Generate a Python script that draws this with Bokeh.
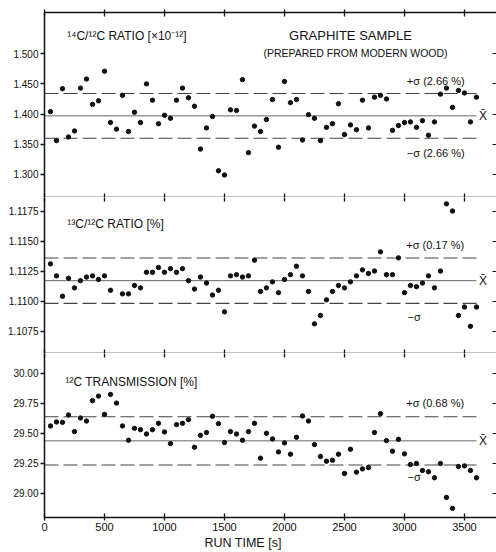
from bokeh.plotting import figure
from bokeh.layouts import column
from bokeh.models import Range1d, LinearAxis, FixedTicker, Title
from bokeh.core.properties import value
from bokeh.embed import file_html
from bokeh.resources import INLINE
import math

# ---------------- data ----------------
RUN_TIME = [50, 100, 150, 200, 250, 300, 350, 400, 450, 500, 550, 600,
            650, 700, 750, 800, 850, 900, 950, 1000, 1050, 1100, 1150, 1200,
            1250, 1300, 1350, 1400, 1450, 1500, 1550, 1600, 1650, 1700, 1750, 1800,
            1850, 1900, 1950, 2000, 2050, 2100, 2150, 2200, 2250, 2300, 2350, 2400,
            2450, 2500, 2550, 2600, 2650, 2700, 2750, 2800, 2850, 2900, 2950, 3000,
            3050, 3100, 3150, 3200, 3250, 3300, 3350, 3400, 3450, 3500, 3550, 3600]

C14_RATIO = [1.404, 1.356, 1.442, 1.362, 1.372, 1.443, 1.458, 1.416, 1.422, 1.471, 1.386, 1.375,
             1.431, 1.371, 1.403, 1.386, 1.450, 1.423, 1.384, 1.398, 1.393, 1.423, 1.443, 1.427,
             1.413, 1.342, 1.377, 1.396, 1.306, 1.299, 1.407, 1.406, 1.457, 1.336, 1.380, 1.371,
             1.391, 1.424, 1.345, 1.454, 1.419, 1.424, 1.357, 1.399, 1.393, 1.356, 1.378, 1.384,
             1.417, 1.366, 1.382, 1.374, 1.423, 1.377, 1.428, 1.431, 1.425, 1.373, 1.381, 1.386,
             1.387, 1.378, 1.389, 1.365, 1.387, 1.433, 1.443, 1.411, 1.439, 1.435, 1.387, 1.428]

C13_RATIO = [1.1131, 1.1121, 1.1104, 1.1119, 1.1111, 1.1117, 1.1120, 1.1121, 1.1118, 1.1121, 1.1109, float("nan"),
             1.1106, 1.1106, 1.1113, 1.1111, 1.1124, 1.1124, 1.1128, 1.1124, 1.1127, 1.1124, 1.1127, 1.1117,
             1.1110, 1.1120, 1.1115, 1.1105, 1.1109, 1.1091, 1.1121, 1.1122, 1.1120, 1.1121, 1.1134, 1.1108,
             1.1111, 1.1116, 1.1107, 1.1118, 1.1122, 1.1129, 1.1121, 1.1108, 1.1081, 1.1088, 1.1101, 1.1108,
             1.1113, 1.1111, 1.1116, 1.1121, 1.1126, 1.1123, 1.1125, 1.1141, 1.1122, 1.1122, 1.1136, 1.1107,
             1.1113, 1.1112, 1.1115, 1.1121, 1.1111, 1.1125, 1.1181, 1.1175, 1.1088, 1.1095, 1.1079, 1.1095]

C12_TRANS = [29.561, 29.594, 29.591, 29.652, 29.514, 29.627, 29.602, 29.771, 29.809, 29.657, 29.823, 29.751,
             29.561, 29.442, 29.541, 29.530, 29.494, 29.530, 29.583, 29.511, 29.414, 29.572, 29.583, 29.613,
             29.384, 29.483, 29.506, 29.641, 29.580, 29.423, 29.514, 29.494, 29.442, 29.514, 29.583, 29.293,
             29.500, 29.453, 29.345, 29.420, 29.326, 29.467, 29.644, 29.602, 29.406, 29.307, 29.268, 29.276,
             29.326, 29.166, 29.367, 29.177, 29.204, 29.215, 29.506, 29.663, 29.439, 29.351, 29.450, 29.329,
             29.240, 29.249, 29.191, 29.180, 29.130, 29.249, 28.967, 28.876, 29.224, 29.229, 29.191, 29.130]

# mean values and relative sigma (%) as printed on the chart
MEAN_14, SIGMA_14_PCT = 1.397, 2.66
MEAN_13, SIGMA_13_PCT = 1.1117, 0.17
MEAN_12, SIGMA_12_PCT = 29.437, 0.68
LINE_END = 3600

X_TICKS = [0, 500, 1000, 1500, 2000, 2500, 3000, 3500]
X_LABELS = ["0", "500", "1000", "1500", "2000", "2500", "3000", "3500"]
Y1_TICKS = [1.300, 1.350, 1.400, 1.450, 1.500]
Y1_LABELS = ["1.300", "1.350", "1.400", "1.450", "1.500"]
Y2_TICKS = [1.1075, 1.1100, 1.1125, 1.1150, 1.1175]
Y2_LABELS = ["1.1075", "1.1100", "1.1125", "1.1150", "1.1175"]
Y3_TICKS = [29.00, 29.25, 29.50, 29.75, 30.00]
Y3_LABELS = ["29.00", "29.25", "29.50", "29.75", "30.00"]

FONT = "Liberation Sans"
INK = "#111111"

x_range = Range1d(0, 3767)


def base_fig(y0, y1, frame_h, top, bottom):
    p = figure(frame_width=452, frame_height=frame_h, x_range=x_range,
               y_range=Range1d(y0, y1), output_backend="svg", toolbar_location=None,
               x_axis_location=None, y_axis_location=None,
               min_border_left=44, min_border_right=0, min_border_top=top,
               min_border_bottom=bottom, outline_line_color=None,
               background_fill_color="white", border_fill_color="white")
    p.xgrid.visible = False
    p.ygrid.visible = False
    return p


def hide_labels(ax):
    ax.major_label_text_font_size = "0px"
    ax.major_label_text_color = None
    ax.major_label_standoff = 0


def add_x_axis(p, loc, line=True, tin=4, tout=0, labels=False):
    ax = LinearAxis(ticker=FixedTicker(ticks=X_TICKS))
    ax.major_tick_in = tin
    ax.major_tick_out = tout
    ax.major_tick_line_color = INK
    ax.major_tick_line_width = 1.3
    ax.minor_tick_line_color = None
    ax.axis_line_color = INK if line else None
    ax.axis_line_width = 1.5
    if labels:
        ax.major_label_overrides = dict(zip(X_TICKS, X_LABELS))
        ax.major_label_text_font = FONT
        ax.major_label_text_font_size = "11px"
        ax.major_label_text_color = INK
        ax.major_label_standoff = 2
    else:
        hide_labels(ax)
    p.add_layout(ax, loc)


def add_y_axes(p, ticks, labels):
    ax = LinearAxis(ticker=FixedTicker(ticks=ticks))
    ax.major_label_overrides = dict(zip(ticks, labels))
    ax.major_tick_in = 0
    ax.major_tick_out = 4
    ax.major_tick_line_color = INK
    ax.major_tick_line_width = 1.3
    ax.minor_tick_line_color = None
    ax.axis_line_color = INK
    ax.axis_line_width = 1.5
    ax.major_label_text_font = FONT
    ax.major_label_text_font_size = "10px"
    ax.major_label_text_color = INK
    ax.major_label_standoff = 2
    p.add_layout(ax, "left")
    rx = LinearAxis(ticker=FixedTicker(ticks=ticks))
    rx.major_tick_in = 4
    rx.major_tick_out = 0
    rx.major_tick_line_color = INK
    rx.minor_tick_line_color = None
    rx.axis_line_color = None
    hide_labels(rx)
    p.add_layout(rx, "right")


def add_series(p, ys, mean, pct):
    sig = mean * pct / 100.0
    p.segment(x0=[0], x1=[LINE_END], y0=[mean], y1=[mean], line_color="#666666", line_width=1)
    p.segment(x0=[0, 0], x1=[LINE_END, LINE_END], y0=[mean + sig, mean - sig],
              y1=[mean + sig, mean - sig], line_color="#444444", line_width=1.1,
              line_dash="14 5")
    xs = [t for t, v in zip(RUN_TIME, ys) if not math.isnan(v)]
    vs = [v for v in ys if not math.isnan(v)]
    p.scatter(xs, vs, size=4.4, color=INK, line_color=INK)


def txt(p, x, y, s, size, align="left"):
    p.text(x=[x], y=[y], text=[s], text_font=value(FONT), text_font_size=size,
           text_color=INK, text_align=align, text_baseline="middle")


# ---------- panel 1 : 14C/12C ----------
p1 = base_fig(1.2617, 1.5683, 185, 12, 0)
add_x_axis(p1, "above", line=True, tin=4, tout=3)
add_x_axis(p1, "below", line=True, tin=4, tout=0)
add_y_axes(p1, Y1_TICKS, Y1_LABELS)
add_series(p1, C14_RATIO, MEAN_14, SIGMA_14_PCT)
txt(p1, 190, 1.530, "¹⁴C/¹²C RATIO [×10⁻¹²]", "12px")
txt(p1, 2550, 1.531, "GRAPHITE SAMPLE", "13px", "center")
txt(p1, 2592, 1.501, "(PREPARED FROM MODERN WOOD)", "10.5px", "center")
txt(p1, 3020, 1.455, "+σ (2.66 %)", "11px")
txt(p1, 3020, 1.335, "−σ (2.66 %)", "11px")
txt(p1, 3655, MEAN_14, "X\u0304", "12px", "center")

# ---------- panel 2 : 13C/12C ----------
p2 = base_fig(1.10563, 1.11863, 156, 0, 0)
add_x_axis(p2, "above", line=False, tin=4, tout=0)
add_x_axis(p2, "below", line=True, tin=4, tout=0)
add_y_axes(p2, Y2_TICKS, Y2_LABELS)
add_series(p2, C13_RATIO, MEAN_13, SIGMA_13_PCT)
txt(p2, 190, 1.11642, "¹³C/¹²C RATIO [%]", "12px")
txt(p2, 3015, 1.11467, "+σ (0.17 %)", "11px")
txt(p2, 3025, 1.10871, "−σ", "11px")
txt(p2, 3655, MEAN_13, "X\u0304", "12px", "center")

# ---------- panel 3 : 12C transmission ----------
p3 = base_fig(28.80, 30.163, 164, 0, 35)
add_x_axis(p3, "above", line=False, tin=4, tout=0)
add_x_axis(p3, "below", line=True, tin=4, tout=3, labels=True)
add_y_axes(p3, Y3_TICKS, Y3_LABELS)
add_series(p3, C12_TRANS, MEAN_12, SIGMA_12_PCT)
txt(p3, 175, 29.925, "¹²C TRANSMISSION [%]", "12px")
txt(p3, 3015, 29.75, "+σ (0.68 %)", "11px")
txt(p3, 3025, 29.135, "−σ", "11px")
txt(p3, 3655, MEAN_12, "X\u0304", "12px", "center")

p3.add_layout(Title(text="RUN TIME [s]", align="left", offset=160, standoff=0,
                    text_font=FONT, text_font_size="12.5px", text_font_style="normal",
                    text_color=INK), "below")

layout = column(p1, p2, p3, spacing=0)
open("out.html", "w").write(file_html(layout, INLINE))
